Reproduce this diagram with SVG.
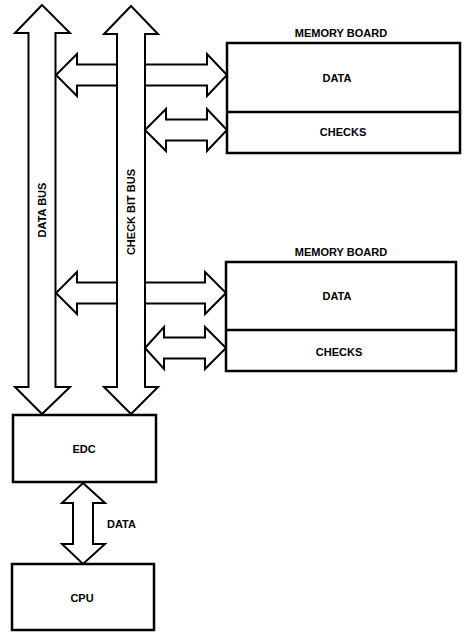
<svg xmlns="http://www.w3.org/2000/svg" width="464" height="632" viewBox="0 0 464 632">
<style>
.box{fill:#fff;stroke:#000;stroke-width:2.5}
.arr{fill:#fff;stroke:#000;stroke-width:2;stroke-linejoin:miter}
.ln{stroke:#000;stroke-width:2.5}
text{font-family:"Liberation Sans",Arial,sans-serif;font-weight:bold;font-size:11px;fill:#000;text-anchor:middle}
</style>
<rect width="464" height="632" fill="#fff"/>
<g id="connectors">
<polygon id="data-bus" class="arr" points="42,5 70,33 55.5,33 55.5,387 70,387 42,414 15,387 28.5,387 28.5,33 15,33"/>
<polygon id="check-bit-bus" class="arr" points="131,6 158,34 145,34 145,387 158,387 131,414 104,387 117,387 117,34 104,34"/>
<polygon class="arr" points="117,64.5 77,64.5 77,54 56,75 77,96 77,85.5 117,85.5"/>
<polygon class="arr" points="145,64.5 207,64.5 207,54 227,75 207,96 207,85.5 145,85.5"/>
<polygon class="arr" points="145,130 166,109 166,119.5 207,119.5 207,109 227,130 207,151 207,140.5 166,140.5 166,151"/>
<polygon class="arr" points="117,282.5 77,282.5 77,272 56,293 77,314 77,303.5 117,303.5"/>
<polygon class="arr" points="145,282.5 205,282.5 205,272 226,293 205,314 205,303.5 145,303.5"/>
<polygon class="arr" points="145,348 164,327 164,337.5 205,337.5 205,327 226,348 205,369 205,358.5 164,358.5 164,369"/>
<polygon class="arr" points="83,483 105,503 93,503 93,544 105,544 83,564 62,544 73,544 73,503 62,503"/>
<text x="107" y="528" style="text-anchor:start">DATA</text>
<text transform="translate(46,210) rotate(-90)">DATA BUS</text>
<text transform="translate(135,212) rotate(-90)">CHECK BIT BUS</text>
</g>
<g id="memory-board-1">
<text x="341" y="37">MEMORY BOARD</text>
<rect class="box" x="227" y="43" width="233" height="110"/>
<line class="ln" x1="227" y1="112" x2="460" y2="112"/>
<text x="337" y="82">DATA</text>
<text x="343" y="136">CHECKS</text>
</g>
<g id="memory-board-2">
<text x="341" y="256">MEMORY BOARD</text>
<rect class="box" x="226" y="262" width="230" height="109"/>
<line class="ln" x1="226" y1="330" x2="456" y2="330"/>
<text x="337" y="300">DATA</text>
<text x="339" y="356">CHECKS</text>
</g>
<g id="edc">
<rect class="box" x="13" y="415" width="143" height="67"/>
<text x="84" y="453">EDC</text>
</g>
<g id="cpu">
<rect class="box" x="12" y="564" width="142" height="66"/>
<text x="82" y="602">CPU</text>
</g>
</svg>
